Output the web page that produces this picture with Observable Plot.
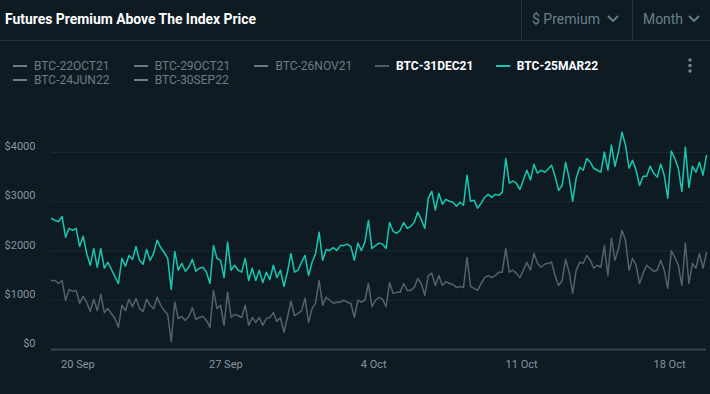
<!DOCTYPE html>
<html><head><meta charset="utf-8">
<script src="https://cdn.jsdelivr.net/npm/d3@7"></script>
<script src="https://cdn.jsdelivr.net/npm/@observablehq/plot@0.6"></script>
<style>
html,body{margin:0;padding:0;background:#0e1b23;}
body{width:710px;height:394px;overflow:hidden;position:relative;font-family:Roboto,"Open Sans",sans-serif;}
.abs{position:absolute;white-space:nowrap;}
#title{left:5px;top:10px;font-size:15px;line-height:18px;font-weight:700;color:#ffffff;transform-origin:0 50%;}
.hdr{top:10px;font-size:15px;line-height:18px;color:#67818d;transform-origin:0 50%;}
.vsep{top:0;width:1px;height:40px;background:#1c3542;}
#hline{left:0;top:40px;width:710px;height:1px;background:#1c3542;}
.lg{font-size:12px;line-height:14px;}
.dash{height:2px;width:14px;}
#chart{position:absolute;left:0;top:95px;}
</style></head>
<body>
<div id="title" class="abs">Futures Premium Above The Index Price</div>
<div class="abs vsep" style="left:521px"></div>
<div class="abs vsep" style="left:632px"></div>
<div id="h1" class="abs hdr" style="left:532px">$ Premium</div>
<div id="h2" class="abs hdr" style="left:643px">Month</div>
<svg class="abs" style="left:606px;top:14px" width="14" height="10"><polyline points="2,2 7,7 12,2" fill="none" stroke="#67818d" stroke-width="1.8"/></svg>
<svg class="abs" style="left:687px;top:14px" width="14" height="10"><polyline points="2,2 7,7 12,2" fill="none" stroke="#67818d" stroke-width="1.8"/></svg>
<div id="hline" class="abs"></div>
<div id="legend"></div>
<svg class="abs" style="left:686px;top:57px" width="8" height="18"><circle cx="4" cy="3" r="1.8" fill="#6d838d"/><circle cx="4" cy="8.5" r="1.8" fill="#6d838d"/><circle cx="4" cy="14" r="1.8" fill="#6d838d"/></svg>
<div id="chart"></div>
<script>
// ---- data ----
const seriesNames = ["BTC-22OCT21","BTC-29OCT21","BTC-26NOV21","BTC-31DEC21","BTC-25MAR22","BTC-24JUN22","BTC-30SEP22"];
const seriesActive = [false,false,false,true,true,false,false];
const seriesColors = ["#6b7c86","#6b7c86","#6b7c86","#4f5a69","#17c9b2","#6b7c86","#6b7c86"];
const startTime = "2021-09-18T18:00:00Z";
const stepHours = 4;
const dec21 = [1400,1400,1340,1400,1000,1220,1180,1200,940,1080,
960,770,1020,790,1120,750,830,730,630,450,
900,790,1020,870,1040,830,770,1020,900,830,
1060,900,790,710,160,960,630,670,590,670,
850,610,650,670,590,450,1200,830,900,490,
1160,650,710,690,650,900,490,650,550,650,
490,630,650,750,570,650,350,650,980,690,
730,790,1040,550,830,940,1400,900,1060,1000,
940,960,960,1000,960,940,650,1000,960,1000,
1340,870,1000,1060,1020,870,1360,1140,1160,1160,
1340,1200,1200,1260,1440,1340,1100,1500,1550,1300,
1500,1300,1380,1340,1320,1260,1280,1260,1870,1280,
1240,1200,1340,1460,1500,1460,1500,1570,1570,2050,
1570,1610,1550,1460,1610,1770,1610,1950,1750,1670,
1730,1750,1770,1500,1300,1400,1830,1570,1140,1610,
1770,1750,1910,1810,1650,1710,1670,2110,1500,2260,
1810,2050,2420,2220,1610,1850,1710,1340,1550,1710,
1650,1590,1610,1810,1610,1240,2010,1870,1710,1300,
2160,1340,1750,1650,1950,1650,1970];
const mar22 = [2660,2620,2600,2700,2280,2460,2420,2460,2090,2300,
1950,1710,2050,1670,2050,1650,1770,1630,1480,1340,
1850,1690,1910,1830,2090,1810,1730,2030,1810,1950,
2220,2070,1970,1850,1220,1990,1610,1750,1590,1670,
1830,1590,1650,1670,1570,1340,2110,1850,1810,1460,
2180,1610,1710,1610,1570,1850,1400,1650,1400,1610,
1360,1570,1420,1710,1460,1610,1280,1570,1950,1570,
1610,1770,1910,1500,1770,1950,2380,1810,2030,2010,
2070,2010,2110,2110,2140,2090,1810,2160,2010,2180,
2620,2050,2110,2160,2140,2050,2580,2400,2360,2420,
2580,2460,2500,2580,2790,2640,2460,3070,3210,2830,
3170,2950,3050,3010,2990,2910,2990,2930,3540,3010,
3030,2870,2970,3090,3150,3090,3150,3130,3190,3880,
3380,3420,3380,3250,3440,3640,3440,3760,3580,3640,
3600,3660,3740,3520,3230,3330,3800,3480,3010,3480,
3700,3640,3880,3800,3680,3640,3600,4010,3640,4150,
3720,4010,4410,4150,3680,3840,3640,3330,3520,3520,
3720,3580,3500,3760,3540,3070,4030,3880,3680,3210,
4110,3290,3720,3600,3800,3540,3940];
const yTicks = [0,1000,2000,3000,4000];
const xTickDates = ["2021-09-20","2021-09-27","2021-10-04","2021-10-11","2021-10-18"];

// ---- header text widths (condensed look) ----
function fit(id, w){const el=document.getElementById(id);const r=el.getBoundingClientRect().width;el.style.transform=`scaleX(${w/r})`;}
fit("title",251); fit("h1",68); fit("h2",40);

// ---- legend ----
const lg = document.getElementById("legend");
seriesNames.forEach((n,i)=>{
  const row = i<5?0:1, col = i<5?i:i-5;
  const x = 13 + col*120.7, y = row===0?66:79.5;
  const d = document.createElement("div");
  d.className="abs dash"; d.style.left=x+"px"; d.style.top=(y-1)+"px"; d.style.background=seriesColors[i];
  lg.appendChild(d);
  const t = document.createElement("div");
  t.className="abs lg"; t.textContent=n; t.style.left=(x+21)+"px"; t.style.top=(y-7)+"px";
  t.style.color = seriesActive[i] ? "#ffffff" : "#6b7c86";
  t.style.fontWeight = seriesActive[i] ? "700" : "400";
  lg.appendChild(t);
});

// ---- chart ----
const t0 = new Date(startTime).getTime();
const rows = [];
mar22.forEach((v,i)=>rows.push({t:new Date(t0+i*stepHours*3600e3), v, s:"BTC-25MAR22"}));
dec21.forEach((v,i)=>rows.push({t:new Date(t0+i*stepHours*3600e3), v, s:"BTC-31DEC21"}));
const tEnd = new Date(t0+(mar22.length-1)*stepHours*3600e3);

const plot = Plot.plot({
  width:710, height:299,
  marginLeft:51, marginRight:4, marginTop:57, marginBottom:45,
  style:{background:"transparent", color:"#8595a0", fontFamily:"Roboto, sans-serif", fontSize:"11px"},
  x:{type:"utc", domain:[new Date(t0), tEnd]},
  y:{domain:[0,4000]},
  marks:[
    Plot.gridY(yTicks.slice(1), {stroke:"#1a2a33", strokeOpacity:1, strokeWidth:1}),
    Plot.ruleY([0], {stroke:"#33454f", strokeWidth:2}),
    Plot.axisY(yTicks, {tickSize:0, tickPadding:16, dy:-6, tickFormat:d=>"$"+d, label:null, fill:"#8595a0"}),
    Plot.axisX(xTickDates.map(d=>new Date(d+"T00:00:00Z")), {tickSize:0, tickPadding:11, tickFormat:d3.utcFormat("%-d %b"), label:null, fill:"#8595a0"}),
    Plot.lineY(rows.filter(r=>r.s==="BTC-31DEC21"), {x:"t", y:"v", stroke:"#56606f", strokeWidth:1.5}),
    Plot.lineY(rows.filter(r=>r.s==="BTC-25MAR22"), {x:"t", y:"v", stroke:"#17c9b2", strokeWidth:1.5})
  ]
});
document.getElementById("chart").appendChild(plot);
</script>
</body></html>
